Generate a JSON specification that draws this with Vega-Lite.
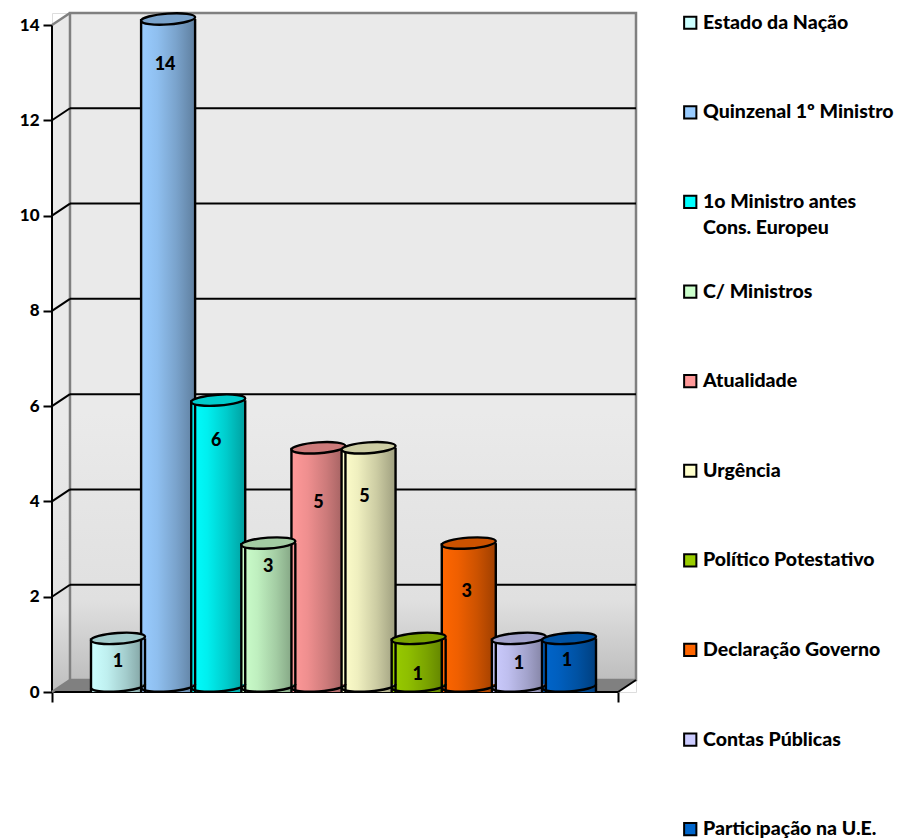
{
"$schema":"https://vega.github.io/schema/vega-lite/v6.json",
"width":584,"height":679,
"autosize":{"type":"none"},
"padding":{"left":52,"top":13,"right":263,"bottom":148},
"background":"white",
"config":{"style":{"guide-label":{"lineHeight":26}}},
"datasets":{"bars":[
{"tipo":"Estado da Nação","n":1,"valor":1,"labelN":1,"labelAt":0.63},
{"tipo":"Quinzenal 1º Ministro","n":2,"valor":14,"labelN":1.94,"labelAt":13.16},
{"tipo":"1o Ministro antes Cons. Europeu","n":3,"valor":6,"labelN":2.96,"labelAt":5.27},
{"tipo":"C/ Ministros","n":4,"valor":3,"labelN":4,"labelAt":2.62},
{"tipo":"Atualidade","n":5,"valor":5,"labelN":5,"labelAt":3.97},
{"tipo":"Urgência","n":6,"valor":5,"labelN":5.92,"labelAt":4.09},
{"tipo":"Político Potestativo","n":7,"valor":1,"labelN":6.98,"labelAt":0.36},
{"tipo":"Declaração Governo","n":8,"valor":3,"labelN":7.96,"labelAt":2.1},
{"tipo":"Contas Públicas","n":9,"valor":1,"labelN":9,"labelAt":0.59},
{"tipo":"Participação na U.E.","n":10,"valor":1,"labelN":9.96,"labelAt":0.65}
]},
"params":[
{"name":"g1","value":{"gradient":"linear","x1":0,"x2":1,"y1":0,"y2":0,"stops":[{"offset":0,"color":"#CCFFFF"},{"offset":0.3,"color":"#BFEFEF"},{"offset":0.65,"color":"#A3CCCC"},{"offset":1,"color":"#7F9F9F"}]}},
{"name":"g2","value":{"gradient":"linear","x1":0,"x2":1,"y1":0,"y2":0,"stops":[{"offset":0,"color":"#99CCFF"},{"offset":0.3,"color":"#8FBFEF"},{"offset":0.65,"color":"#7AA3CC"},{"offset":1,"color":"#5F7F9F"}]}},
{"name":"g3","value":{"gradient":"linear","x1":0,"x2":1,"y1":0,"y2":0,"stops":[{"offset":0,"color":"#00FFFF"},{"offset":0.3,"color":"#00EFEF"},{"offset":0.65,"color":"#00CCCC"},{"offset":1,"color":"#009F9F"}]}},
{"name":"g4","value":{"gradient":"linear","x1":0,"x2":1,"y1":0,"y2":0,"stops":[{"offset":0,"color":"#CCFFCC"},{"offset":0.3,"color":"#BFEFBF"},{"offset":0.65,"color":"#A3CCA3"},{"offset":1,"color":"#7F9F7F"}]}},
{"name":"g5","value":{"gradient":"linear","x1":0,"x2":1,"y1":0,"y2":0,"stops":[{"offset":0,"color":"#FF9999"},{"offset":0.3,"color":"#EF8F8F"},{"offset":0.65,"color":"#CC7A7A"},{"offset":1,"color":"#9F5F5F"}]}},
{"name":"g6","value":{"gradient":"linear","x1":0,"x2":1,"y1":0,"y2":0,"stops":[{"offset":0,"color":"#FFFFCC"},{"offset":0.3,"color":"#EFEFBF"},{"offset":0.65,"color":"#CCCCA3"},{"offset":1,"color":"#9F9F7F"}]}},
{"name":"g7","value":{"gradient":"linear","x1":0,"x2":1,"y1":0,"y2":0,"stops":[{"offset":0,"color":"#99CC00"},{"offset":0.3,"color":"#8FBF00"},{"offset":0.65,"color":"#7AA300"},{"offset":1,"color":"#5F7F00"}]}},
{"name":"g8","value":{"gradient":"linear","x1":0,"x2":1,"y1":0,"y2":0,"stops":[{"offset":0,"color":"#FF6600"},{"offset":0.3,"color":"#EF5F00"},{"offset":0.65,"color":"#CC5200"},{"offset":1,"color":"#9F3F00"}]}},
{"name":"g9","value":{"gradient":"linear","x1":0,"x2":1,"y1":0,"y2":0,"stops":[{"offset":0,"color":"#CCCCFF"},{"offset":0.3,"color":"#BFBFEF"},{"offset":0.65,"color":"#A3A3CC"},{"offset":1,"color":"#7F7F9F"}]}},
{"name":"g10","value":{"gradient":"linear","x1":0,"x2":1,"y1":0,"y2":0,"stops":[{"offset":0,"color":"#0066CC"},{"offset":0.3,"color":"#005FBF"},{"offset":0.65,"color":"#0052A3"},{"offset":1,"color":"#003F7F"}]}}
],
"resolve":{"scale":{"fill":"independent"}},
"layer":[
{"data":{"values":[{"xa":-0.317,"ya":0,"yb":14},{"xa":0.042,"ya":0.252,"yb":14.252}]},
 "mark":{"type":"area","orient":"vertical","line":false,"color":{"gradient":"linear","x1":0,"x2":0,"y1":0,"y2":1,"stops":[{"offset":0,"color":"#EAEAEA"},{"offset":0.6,"color":"#EAEAEA"},{"offset":0.88,"color":"#E0E0E0"},{"offset":1,"color":"#BEBEBE"}]}},
 "encoding":{
  "x":{"field":"xa","type":"quantitative","scale":{"domain":[-0.317,11.337],"nice":false,"zero":false,"padding":0},
   "axis":{"values":[-0.317,10.978],"labels":false,"title":null,"grid":false,"domain":false,"tickSize":10,"tickWidth":2,"tickColor":"black"}},
  "y":{"field":"ya","type":"quantitative","scale":{"domain":[0,14.252],"nice":false,"zero":false},
   "axis":{"values":[0,2,4,6,8,10,12,14],"title":null,"grid":false,"domain":false,"tickSize":9,"tickWidth":2,"tickColor":"black","labelFont":"Lato","labelFontWeight":900,"labelFontSize":17,"labelColor":"black","labelPadding":4}},
  "y2":{"field":"yb"}}},
{"data":{"values":[{"xa":0.042,"xb":11.337,"ya":0.252,"yb":14.252}]},
 "mark":{"type":"rect","stroke":"#808080","strokeWidth":2.5,"fill":{"gradient":"linear","x1":0,"x2":0,"y1":0,"y2":1,"stops":[{"offset":0,"color":"#EAEAEA"},{"offset":0.6,"color":"#EAEAEA"},{"offset":0.88,"color":"#E0E0E0"},{"offset":1,"color":"#BEBEBE"}]}},
 "encoding":{"x":{"field":"xa","type":"quantitative"},"x2":{"field":"xb"},"y":{"field":"ya","type":"quantitative"},"y2":{"field":"yb"}}},
{"data":{"values":[{"xa":-0.317,"ya":0,"yb":0},{"xa":0.042,"ya":0,"yb":0.252},{"xa":10.978,"ya":0,"yb":0.252},{"xa":11.337,"ya":0.252,"yb":0.252}]},
 "mark":{"type":"area","orient":"vertical","color":"#808080"},
 "encoding":{"x":{"field":"xa","type":"quantitative"},"y":{"field":"ya","type":"quantitative"},"y2":{"field":"yb"}}},
{"data":{"values":[
 {"xa":0.042,"xb":11.337,"ya":2.252,"yb":2.252},{"xa":0.042,"xb":11.337,"ya":4.252,"yb":4.252},{"xa":0.042,"xb":11.337,"ya":6.252,"yb":6.252},{"xa":0.042,"xb":11.337,"ya":8.252,"yb":8.252},{"xa":0.042,"xb":11.337,"ya":10.252,"yb":10.252},{"xa":0.042,"xb":11.337,"ya":12.252,"yb":12.252},
 {"xa":-0.317,"xb":0.042,"ya":2,"yb":2.252},{"xa":-0.317,"xb":0.042,"ya":4,"yb":4.252},{"xa":-0.317,"xb":0.042,"ya":6,"yb":6.252},{"xa":-0.317,"xb":0.042,"ya":8,"yb":8.252},{"xa":-0.317,"xb":0.042,"ya":10,"yb":10.252},{"xa":-0.317,"xb":0.042,"ya":12,"yb":12.252},
 {"xa":-0.317,"xb":-0.317,"ya":0,"yb":14},{"xa":-0.317,"xb":10.978,"ya":0,"yb":0},{"xa":10.978,"xb":11.337,"ya":0,"yb":0.252}]},
 "mark":{"type":"rule","color":"black","strokeWidth":2},
 "encoding":{"x":{"field":"xa","type":"quantitative"},"x2":{"field":"xb"},"y":{"field":"ya","type":"quantitative"},"y2":{"field":"yb"}}},
{"data":{"values":[{"xa":-0.317,"xb":0.042,"ya":14,"yb":14.252},{"xa":-0.317,"xb":0.042,"ya":0,"yb":0.252}]},
 "mark":{"type":"rule","color":"#808080","strokeWidth":2.5},
 "encoding":{"x":{"field":"xa","type":"quantitative"},"x2":{"field":"xb"},"y":{"field":"ya","type":"quantitative"},"y2":{"field":"yb"}}},
{"data":{"name":"bars"},
 "mark":{"type":"bar","orient":"vertical","width":54,"yOffset":-6},
 "encoding":{"x":{"field":"n","type":"quantitative"},"y":{"field":"valor","type":"quantitative","stack":null},
  "fill":{"field":"tipo","type":"nominal","scale":{"domain":["Estado da Nação","Quinzenal 1º Ministro","1o Ministro antes Cons. Europeu","C/ Ministros","Atualidade","Urgência","Político Potestativo","Declaração Governo","Contas Públicas","Participação na U.E."],"range":["#CCFFFF","#99CCFF","#00FFFF","#CCFFCC","#FF9999","#FFFFCC","#99CC00","#FF6600","#CCCCFF","#0066CC"]},
   "legend":{"orient":"none","legendX":628.5,"legendY":0,"title":null,"columns":1,"gridAlign":"all","symbolType":"square","symbolSize":150,"symbolStrokeColor":"black","symbolStrokeWidth":2,"symbolOpacity":1,"labelFont":"Lato","labelFontWeight":900,"labelFontSize":19.5,"labelOffset":3,"labelColor":"black","labelLimit":260,"rowPadding":42.6,"labelExpr":"datum.label == '1o Ministro antes Cons. Europeu' ? ['1o Ministro antes','Cons. Europeu'] : datum.label"}}}},
{"data":{"name":"bars"},
 "mark":{"type":"bar","orient":"vertical","width":54,"yOffset":-6},
 "encoding":{"x":{"field":"n","type":"quantitative"},"y":{"field":"valor","type":"quantitative","stack":null},
  "fill":{"field":"tipo","type":"nominal","legend":null,"scale":{"domain":["Estado da Nação","Quinzenal 1º Ministro","1o Ministro antes Cons. Europeu","C/ Ministros","Atualidade","Urgência","Político Potestativo","Declaração Governo","Contas Públicas","Participação na U.E."],"range":[{"expr":"g1"},{"expr":"g2"},{"expr":"g3"},{"expr":"g4"},{"expr":"g5"},{"expr":"g6"},{"expr":"g7"},{"expr":"g8"},{"expr":"g9"},{"expr":"g10"}]}}}},
{"data":{"name":"bars"},
 "mark":{"type":"point","filled":true,"size":2916,"yOffset":-6,"opacity":1,"stroke":"black","strokeWidth":2.4,"shape":"M-1,0.07 C-0.992,0.18 -0.538,0.239 0.014,0.2 C0.566,0.161 1.008,0.04 1,-0.07"},
 "encoding":{"x":{"field":"n","type":"quantitative"},"y":{"datum":0,"type":"quantitative"},
  "fill":{"field":"tipo","type":"nominal","legend":null,"scale":{"domain":["Estado da Nação","Quinzenal 1º Ministro","1o Ministro antes Cons. Europeu","C/ Ministros","Atualidade","Urgência","Político Potestativo","Declaração Governo","Contas Públicas","Participação na U.E."],"range":[{"expr":"g1"},{"expr":"g2"},{"expr":"g3"},{"expr":"g4"},{"expr":"g5"},{"expr":"g6"},{"expr":"g7"},{"expr":"g8"},{"expr":"g9"},{"expr":"g10"}]}}}},
{"data":{"name":"bars"},
 "mark":{"type":"rule","color":"black","strokeWidth":2.4,"xOffset":-27,"yOffset":-6},
 "encoding":{"x":{"field":"n","type":"quantitative"},"y":{"field":"valor","type":"quantitative"},"y2":{"datum":0}}},
{"data":{"name":"bars"},
 "mark":{"type":"rule","color":"black","strokeWidth":2.4,"xOffset":27,"yOffset":-6},
 "encoding":{"x":{"field":"n","type":"quantitative"},"y":{"field":"valor","type":"quantitative"},"y2":{"datum":0}}},
{"data":{"name":"bars"},
 "mark":{"type":"point","filled":true,"size":2916,"yOffset":-6,"opacity":1,"stroke":"black","strokeWidth":2.4,"shape":"M-1,0.07 C-1.008,-0.04 -0.566,-0.161 -0.014,-0.2 C0.538,-0.239 0.992,-0.18 1,-0.07 C1.008,0.04 0.566,0.161 0.014,0.2 C-0.538,0.239 -0.992,0.18 -1,0.07 Z"},
 "encoding":{"x":{"field":"n","type":"quantitative"},"y":{"field":"valor","type":"quantitative"},
  "fill":{"field":"tipo","type":"nominal","legend":null,"scale":{"domain":["Estado da Nação","Quinzenal 1º Ministro","1o Ministro antes Cons. Europeu","C/ Ministros","Atualidade","Urgência","Político Potestativo","Declaração Governo","Contas Públicas","Participação na U.E."],"range":["#A3CCCC","#7AA3CC","#00CCCC","#A3CCA3","#CC7A7A","#CCCCA3","#7AA300","#CC5200","#A3A3CC","#0052A3"]}}}},
{"data":{"name":"bars"},
 "mark":{"type":"text","font":"Lato","fontWeight":900,"fontSize":18,"color":"black","align":"center","baseline":"middle"},
 "encoding":{"x":{"field":"labelN","type":"quantitative"},"y":{"field":"labelAt","type":"quantitative"},"text":{"field":"valor","type":"quantitative"}}}
]}
